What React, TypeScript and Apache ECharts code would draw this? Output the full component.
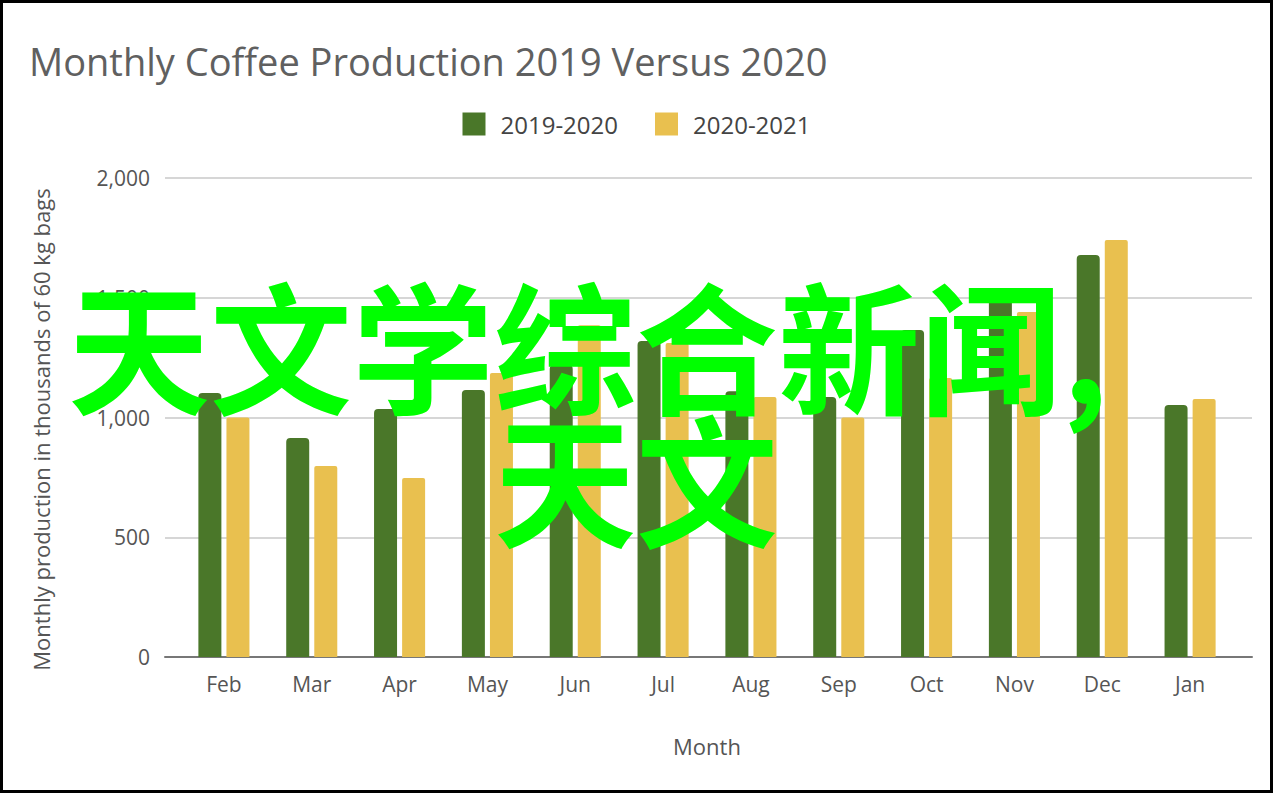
import React, { useEffect, useRef } from 'react';
import * as echarts from 'echarts';

const months = ['Feb', 'Mar', 'Apr', 'May', 'Jun', 'Jul', 'Aug', 'Sep', 'Oct', 'Nov', 'Dec', 'Jan'];
const season1920 = [1102, 914, 1035, 1115, 1219, 1319, 1110, 1086, 1365, 1505, 1678, 1052];
const season2021 = [1000, 797, 747, 1186, 1385, 1311, 1086, 1000, 1165, 1440, 1741, 1077];
const seriesNames = ['2019-2020', '2020-2021'];
const overlayLines = ['天文学综合新闻,', '天文'];

const FONT = '"Open Sans", "Liberation Sans", sans-serif';
const GREEN = '#4a7729';
const YELLOW = '#e9c04f';

const App = () => {
  const chartRef = useRef(null);

  useEffect(() => {
    const chart = echarts.init(chartRef.current, null, { renderer: 'svg' });

    const options = {
      animation: false,
      backgroundColor: '#ffffff',
      textStyle: { fontFamily: FONT },
      title: {
        text: 'Monthly Coffee Production 2019 Versus 2020',
        left: 24,
        top: 37,
        textStyle: { fontFamily: FONT, fontSize: 38, fontWeight: 'normal', color: '#606060' },
      },
      legend: {
        data: seriesNames,
        left: 'center',
        top: 107,
        itemWidth: 23,
        itemHeight: 23,
        itemGap: 37,
        icon: 'rect',
        textStyle: { fontFamily: FONT, fontSize: 24, color: '#444', padding: [0, 0, 0, 10] },
      },
      // grid 0 draws the gridlines / axis over the full width, grid 1 holds the bars
      grid: [
        { left: 165, right: 21, top: 178, bottom: 136 },
        { left: 180, right: 39, top: 178, bottom: 136 },
      ],
      xAxis: [
        {
          gridIndex: 0,
          type: 'value',
          min: 0,
          max: 1,
          axisLine: { show: true, lineStyle: { color: '#777', width: 2 } },
          axisTick: { show: false },
          axisLabel: { show: false },
          splitLine: { show: false },
        },
        {
          gridIndex: 1,
          type: 'category',
          data: months,
          axisLine: { show: false },
          axisTick: { show: false },
          axisLabel: { fontFamily: FONT, fontSize: 21, color: '#555', margin: 16 },
          name: 'Month',
          nameLocation: 'middle',
          nameGap: 78,
          nameTextStyle: { fontFamily: FONT, fontSize: 22, color: '#555' },
        },
      ],
      yAxis: [
        {
          gridIndex: 0,
          type: 'value',
          min: 0,
          max: 2000,
          interval: 500,
          axisLine: { show: false },
          axisTick: { show: false },
          axisLabel: {
            fontFamily: FONT,
            fontSize: 21,
            color: '#555',
            margin: 15,
            formatter: (v) => v.toLocaleString('en-US'),
          },
          splitLine: { lineStyle: { color: '#d6d6d6', width: 2 } },
          name: 'Monthly production in thousands of 60 kg bags',
          nameLocation: 'middle',
          nameGap: 113,
          nameTextStyle: { fontFamily: FONT, fontSize: 22, color: '#555', padding: [0, 24, 0, 0] },
        },
        {
          gridIndex: 1,
          type: 'value',
          min: 0,
          max: 2000,
          show: false,
          splitLine: { show: false },
        },
      ],
      series: [
        {
          name: seriesNames[0],
          type: 'bar',
          xAxisIndex: 1,
          yAxisIndex: 1,
          barWidth: 23,
          barGap: '22%',
          itemStyle: { color: GREEN, borderRadius: [4, 4, 0, 0] },
          data: season1920,
        },
        {
          name: seriesNames[1],
          type: 'bar',
          xAxisIndex: 1,
          yAxisIndex: 1,
          barWidth: 23,
          itemStyle: { color: YELLOW, borderRadius: [2, 2, 0, 0] },
          data: season2021,
        },
      ],
      graphic: [
        {
          type: 'text',
          left: 68,
          top: 271,
          z: 100,
          style: {
            text: overlayLines[0],
            fill: '#00ff00',
            font: 'bold 142px "Noto Sans CJK SC", sans-serif',
          },
        },
        {
          type: 'text',
          left: 494,
          top: 404,
          z: 100,
          style: {
            text: overlayLines[1],
            fill: '#00ff00',
            font: 'bold 142px "Noto Sans CJK SC", sans-serif',
          },
        },
      ],
    };

    chart.setOption(options);

    return () => {
      chart.dispose();
    };
  }, []);

  return (
    <div style={{ position: 'fixed', left: 0, top: 0, width: 1273, height: 793, background: '#fff' }}>
      <div ref={chartRef} style={{ position: 'absolute', left: 0, top: 0, width: 1273, height: 793 }}></div>
      <div
        style={{
          position: 'absolute',
          left: 0,
          top: 0,
          width: 1273,
          height: 793,
          boxSizing: 'border-box',
          border: '3px solid #000',
          pointerEvents: 'none',
        }}
      ></div>
    </div>
  );
};

export default App;
